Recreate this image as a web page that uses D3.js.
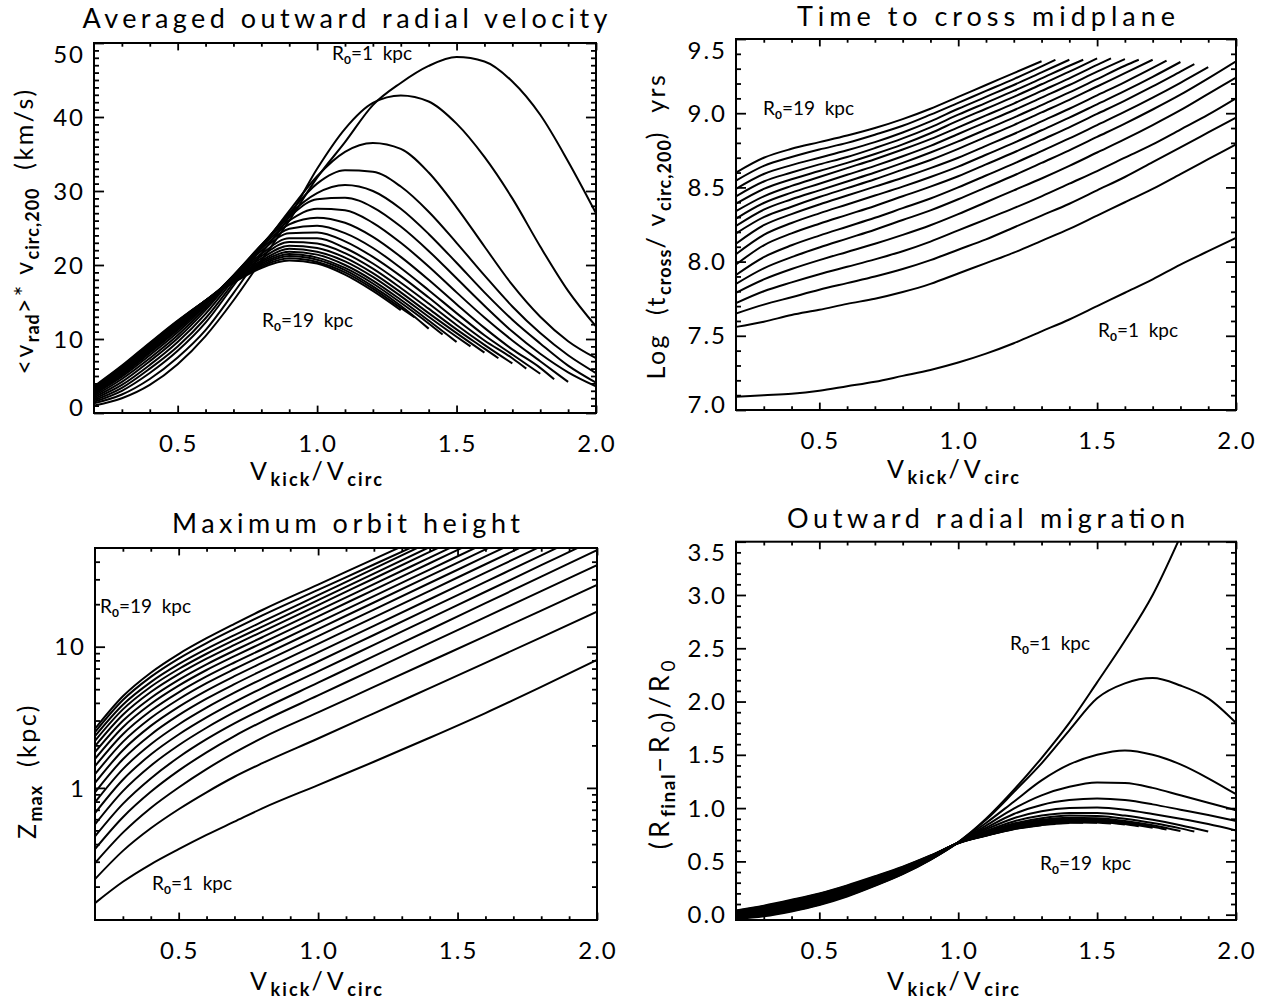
<!DOCTYPE html>
<html>
<head>
<meta charset="utf-8">
<script src="https://cdn.jsdelivr.net/npm/d3@7"></script>
<style>
  html, body { margin: 0; padding: 0; background: #fff; }
  svg { display: block; }
  text { font-family: Lato, "DejaVu Sans", sans-serif; font-weight: 400; fill: #000; white-space: pre; }
</style>
</head>
<body>
<svg id="fig" width="1273" height="1002"></svg>
<script>
// ---- kick velocity grids (V_kick / V_circ) ----
const kickGrid = [0.2, 0.3, 0.4, 0.5, 0.6, 0.7, 0.8, 0.9, 1.0, 1.1, 1.2, 1.3, 1.4, 1.5, 1.6, 1.7, 1.8, 1.9, 2.0];
const kickGridZ = [0.2, 0.3, 0.4, 0.5, 0.6, 0.7, 0.8, 1.0, 1.2, 1.4, 1.6, 1.8, 2.0];

// initial radii R0 = 1 ... 19 kpc
const radiiKpc = [1, 2, 3, 4, 5, 6, 7, 8, 9, 10, 11, 12, 13, 14, 15, 16, 17, 18, 19];
// last kick value reached by each orbit family
const lastKick = [2.0, 2.0, 2.0, 2.0, 2.0, 2.0, 1.90, 1.85, 1.80, 1.75, 1.70, 1.65, 1.60, 1.55, 1.50, 1.45, 1.40, 1.35, 1.30];

// ---- <v_rad> * v_circ,200  (km/s) ----
const vradCurves = [
  [1.0, 2.0, 3.8, 6.6, 10.4, 15.2, 20.6, 26.0, 31.8, 36.6, 41.6, 44.6, 46.9, 48.1, 47.5, 44.8, 40.3, 34.0, 27.0],
  [1.3, 2.5, 4.6, 7.5, 11.2, 16.2, 21.5, 26.5, 33.0, 38.4, 41.9, 42.9, 42.1, 39.1, 34.6, 29.0, 22.5, 16.5, 11.7],
  [1.5, 3.0, 5.4, 8.4, 12.2, 17.2, 22.3, 27.3, 32.0, 35.3, 36.5, 35.7, 32.5, 27.8, 22.5, 17.3, 13.0, 9.7, 7.4],
  [1.7, 3.4, 6.0, 9.0, 12.8, 17.6, 22.5, 27.0, 31.0, 32.8, 32.6, 30.6, 27.2, 23.0, 18.6, 14.4, 10.8, 7.8, 5.4],
  [1.9, 3.8, 6.5, 9.6, 13.4, 18.0, 22.6, 26.8, 29.7, 30.8, 30.0, 27.6, 24.2, 20.3, 16.3, 12.6, 9.4, 6.4, 4.1],
  [2.1, 4.2, 7.0, 10.1, 13.9, 18.3, 22.7, 26.5, 28.9, 29.1, 27.8, 25.2, 21.9, 18.2, 14.5, 11.0, 8.0, 5.5, 3.6],
  [2.3, 4.6, 7.4, 10.5, 14.2, 18.5, 22.7, 26.0, 27.6, 27.4, 25.7, 23.0, 19.8, 16.3, 12.9, 9.8, 7.0, 4.2],
  [2.5, 4.9, 7.8, 10.9, 14.5, 18.6, 22.5, 25.5, 26.4, 25.7, 23.8, 21.1, 18.0, 14.7, 11.5, 8.6, 6.1, 4.55],
  [2.6, 5.1, 8.1, 11.2, 14.7, 18.6, 22.2, 24.9, 25.3, 24.3, 22.3, 19.6, 16.6, 13.5, 10.5, 7.9, 5.3],
  [2.7, 5.3, 8.3, 11.4, 14.8, 18.5, 21.9, 24.3, 24.4, 23.2, 21.1, 18.5, 15.6, 12.6, 9.8, 7.4, 6.0],
  [2.8, 5.5, 8.5, 11.6, 14.9, 18.4, 21.5, 23.6, 23.6, 22.3, 20.2, 17.6, 14.8, 11.9, 9.2, 6.7],
  [2.9, 5.6, 8.7, 11.8, 15.0, 18.3, 21.2, 23.1, 22.9, 21.6, 19.5, 16.9, 14.1, 11.3, 8.7, 7.4],
  [3.0, 5.8, 8.9, 12.0, 15.1, 18.2, 20.9, 22.6, 22.3, 21.0, 18.9, 16.3, 13.5, 10.8, 8.15],
  [3.1, 5.9, 9.0, 12.1, 15.2, 18.1, 20.6, 22.2, 21.8, 20.5, 18.4, 15.8, 13.0, 10.3, 9.0],
  [3.2, 6.0, 9.1, 12.2, 15.2, 18.0, 20.4, 21.8, 21.4, 20.0, 17.9, 15.3, 12.5, 9.6],
  [3.3, 6.1, 9.2, 12.3, 15.2, 17.9, 20.2, 21.5, 21.0, 19.6, 17.5, 14.9, 12.1, 10.6],
  [3.4, 6.2, 9.3, 12.4, 15.2, 17.8, 20.0, 21.2, 20.7, 19.3, 17.1, 14.5, 11.4],
  [3.5, 6.3, 9.4, 12.4, 15.2, 17.7, 19.8, 20.9, 20.4, 19.0, 16.8, 14.2, 12.9],
  [3.6, 6.4, 9.5, 12.5, 15.2, 17.6, 19.6, 20.6, 20.2, 18.7, 16.5, 13.9]
];

// ---- log10 of midplane crossing time (yr) ----
const tcrossCurves = [
  [7.09, 7.10, 7.11, 7.13, 7.16, 7.19, 7.23, 7.27, 7.32, 7.38, 7.45, 7.53, 7.61, 7.70, 7.79, 7.88, 7.98, 8.07, 8.16],
  [7.56, 7.595, 7.64, 7.675, 7.715, 7.75, 7.795, 7.85, 7.92, 7.99, 8.06, 8.14, 8.22, 8.31, 8.40, 8.49, 8.59, 8.69, 8.79],
  [7.65, 7.71, 7.76, 7.81, 7.855, 7.90, 7.95, 8.01, 8.08, 8.15, 8.23, 8.31, 8.39, 8.48, 8.57, 8.67, 8.77, 8.87, 8.97],
  [7.72, 7.80, 7.86, 7.915, 7.965, 8.015, 8.07, 8.135, 8.21, 8.285, 8.36, 8.44, 8.525, 8.61, 8.70, 8.79, 8.89, 8.99, 9.10],
  [7.79, 7.88, 7.95, 8.01, 8.065, 8.12, 8.18, 8.245, 8.32, 8.40, 8.48, 8.56, 8.645, 8.735, 8.825, 8.92, 9.02, 9.13, 9.24],
  [7.85, 7.955, 8.03, 8.095, 8.155, 8.215, 8.28, 8.345, 8.42, 8.50, 8.58, 8.665, 8.75, 8.84, 8.93, 9.025, 9.125, 9.235, 9.35],
  [7.91, 8.03, 8.11, 8.175, 8.235, 8.295, 8.36, 8.425, 8.50, 8.58, 8.66, 8.745, 8.83, 8.92, 9.01, 9.105, 9.205, 9.31],
  [7.98, 8.11, 8.19, 8.255, 8.315, 8.375, 8.44, 8.505, 8.575, 8.655, 8.735, 8.82, 8.905, 8.995, 9.085, 9.18, 9.28, 9.33],
  [8.05, 8.18, 8.26, 8.325, 8.385, 8.445, 8.505, 8.57, 8.64, 8.72, 8.80, 8.885, 8.97, 9.06, 9.15, 9.245, 9.345],
  [8.12, 8.245, 8.32, 8.385, 8.445, 8.505, 8.565, 8.63, 8.70, 8.78, 8.86, 8.945, 9.03, 9.12, 9.21, 9.305, 9.355],
  [8.19, 8.30, 8.37, 8.435, 8.495, 8.555, 8.62, 8.685, 8.76, 8.84, 8.92, 9.005, 9.09, 9.18, 9.27, 9.36],
  [8.24, 8.35, 8.42, 8.48, 8.54, 8.60, 8.665, 8.735, 8.81, 8.89, 8.97, 9.055, 9.14, 9.23, 9.32, 9.36],
  [8.29, 8.395, 8.465, 8.525, 8.585, 8.645, 8.71, 8.78, 8.86, 8.94, 9.02, 9.105, 9.19, 9.28, 9.365],
  [8.34, 8.44, 8.51, 8.57, 8.63, 8.69, 8.755, 8.825, 8.905, 8.985, 9.065, 9.15, 9.235, 9.325, 9.37],
  [8.39, 8.49, 8.555, 8.61, 8.665, 8.725, 8.79, 8.865, 8.95, 9.03, 9.11, 9.195, 9.28, 9.37],
  [8.44, 8.54, 8.60, 8.655, 8.705, 8.765, 8.83, 8.905, 8.99, 9.07, 9.15, 9.235, 9.32, 9.36],
  [8.49, 8.59, 8.65, 8.70, 8.75, 8.805, 8.87, 8.945, 9.03, 9.11, 9.19, 9.275, 9.36],
  [8.545, 8.645, 8.705, 8.755, 8.80, 8.855, 8.915, 8.99, 9.07, 9.15, 9.23, 9.315, 9.36],
  [8.60, 8.70, 8.76, 8.805, 8.85, 8.90, 8.96, 9.03, 9.11, 9.19, 9.27, 9.35]
];

// ---- log10 of maximum orbit height Z_max (kpc), on kickGridZ ----
const zmaxLogCurves = [
  [-0.816, -0.665, -0.541, -0.434, -0.333, -0.239, -0.145, 0.02, 0.185, 0.355, 0.53, 0.715, 0.906],
  [-0.646, -0.446, -0.286, -0.151, -0.031, 0.079, 0.175, 0.35, 0.528, 0.707, 0.886, 1.066, 1.248],
  [-0.532, -0.317, -0.142, 0.003, 0.133, 0.25, 0.355, 0.535, 0.715, 0.895, 1.075, 1.256, 1.437],
  [-0.433, -0.208, -0.028, 0.122, 0.252, 0.367, 0.47, 0.655, 0.84, 1.025, 1.21, 1.394, 1.578],
  [-0.343, -0.113, 0.067, 0.217, 0.345, 0.457, 0.557, 0.745, 0.933, 1.12, 1.308, 1.496, 1.684],
  [-0.258, -0.023, 0.157, 0.302, 0.426, 0.536, 0.637, 0.825, 1.013, 1.201, 1.389, 1.577, 1.765],
  [-0.178, 0.058, 0.236, 0.378, 0.499, 0.607, 0.707, 0.895, 1.083, 1.271, 1.459, 1.647, 1.835],
  [-0.102, 0.133, 0.309, 0.449, 0.568, 0.674, 0.772, 0.96, 1.148, 1.336, 1.524, 1.712, 1.90],
  [-0.031, 0.203, 0.377, 0.515, 0.632, 0.735, 0.832, 1.02, 1.208, 1.396, 1.584, 1.772],
  [0.035, 0.267, 0.439, 0.574, 0.689, 0.791, 0.887, 1.075, 1.263, 1.451, 1.639, 1.827],
  [0.097, 0.326, 0.495, 0.628, 0.742, 0.842, 0.937, 1.125, 1.313, 1.501, 1.689, 1.877],
  [0.154, 0.38, 0.546, 0.677, 0.789, 0.888, 0.982, 1.17, 1.358, 1.546, 1.734],
  [0.206, 0.43, 0.594, 0.724, 0.835, 0.933, 1.027, 1.215, 1.403, 1.591, 1.779],
  [0.253, 0.475, 0.637, 0.765, 0.875, 0.973, 1.067, 1.255, 1.443, 1.631, 1.819],
  [0.296, 0.518, 0.679, 0.806, 0.915, 1.013, 1.107, 1.295, 1.483, 1.671, 1.859],
  [0.334, 0.556, 0.716, 0.842, 0.95, 1.048, 1.142, 1.33, 1.518, 1.706],
  [0.367, 0.589, 0.749, 0.876, 0.984, 1.082, 1.177, 1.365, 1.553, 1.741],
  [0.395, 0.622, 0.786, 0.916, 1.026, 1.126, 1.222, 1.402, 1.582, 1.762],
  [0.419, 0.649, 0.816, 0.948, 1.06, 1.162, 1.26, 1.44, 1.62, 1.80]
];

// ---- (R_final - R0) / R0 ----
const migrationCurves = [
  [-0.04, -0.015, 0.03, 0.09, 0.17, 0.27, 0.38, 0.515, 0.68, 0.90, 1.17, 1.47, 1.80, 2.18, 2.57, 3.00, 3.55],
  [-0.036, -0.009, 0.036, 0.096, 0.176, 0.275, 0.384, 0.517, 0.679, 0.89, 1.15, 1.42, 1.73, 2.03, 2.17, 2.22, 2.15, 2.03, 1.80],
  [-0.031, -0.004, 0.042, 0.102, 0.182, 0.28, 0.388, 0.519, 0.679, 0.86, 1.06, 1.26, 1.41, 1.50, 1.54, 1.50, 1.41, 1.28, 1.13],
  [-0.027, 0.002, 0.048, 0.108, 0.188, 0.285, 0.392, 0.522, 0.678, 0.835, 0.995, 1.12, 1.20, 1.24, 1.235, 1.19, 1.12, 1.05, 0.98],
  [-0.022, 0.007, 0.054, 0.114, 0.193, 0.29, 0.396, 0.524, 0.678, 0.815, 0.945, 1.03, 1.075, 1.09, 1.075, 1.035, 0.985, 0.935, 0.88],
  [-0.018, 0.013, 0.061, 0.121, 0.199, 0.295, 0.399, 0.526, 0.677, 0.80, 0.905, 0.97, 1.0, 1.005, 0.985, 0.945, 0.90, 0.85, 0.79],
  [-0.013, 0.018, 0.067, 0.127, 0.205, 0.30, 0.403, 0.528, 0.677, 0.785, 0.875, 0.93, 0.955, 0.955, 0.93, 0.89, 0.84, 0.78],
  [-0.009, 0.024, 0.073, 0.133, 0.211, 0.305, 0.407, 0.531, 0.676, 0.775, 0.855, 0.905, 0.93, 0.925, 0.90, 0.86, 0.81, 0.78],
  [-0.004, 0.029, 0.079, 0.139, 0.217, 0.31, 0.411, 0.533, 0.676, 0.767, 0.843, 0.89, 0.91, 0.905, 0.88, 0.84, 0.785],
  [0.0, 0.035, 0.085, 0.145, 0.223, 0.315, 0.415, 0.535, 0.675, 0.762, 0.834, 0.879, 0.898, 0.893, 0.867, 0.826, 0.80],
  [0.004, 0.041, 0.091, 0.151, 0.228, 0.32, 0.419, 0.537, 0.675, 0.758, 0.827, 0.871, 0.889, 0.884, 0.858, 0.815],
  [0.009, 0.046, 0.097, 0.157, 0.234, 0.325, 0.423, 0.539, 0.674, 0.755, 0.822, 0.864, 0.882, 0.877, 0.851, 0.83],
  [0.013, 0.052, 0.103, 0.163, 0.24, 0.33, 0.427, 0.542, 0.674, 0.752, 0.818, 0.859, 0.876, 0.871, 0.845],
  [0.018, 0.057, 0.109, 0.169, 0.246, 0.335, 0.431, 0.544, 0.673, 0.75, 0.814, 0.854, 0.871, 0.866, 0.855],
  [0.022, 0.063, 0.116, 0.176, 0.252, 0.34, 0.434, 0.546, 0.673, 0.748, 0.811, 0.85, 0.867, 0.862],
  [0.027, 0.068, 0.122, 0.182, 0.258, 0.345, 0.438, 0.548, 0.672, 0.746, 0.808, 0.847, 0.863, 0.862],
  [0.031, 0.074, 0.128, 0.188, 0.263, 0.35, 0.442, 0.551, 0.672, 0.744, 0.806, 0.844, 0.86],
  [0.036, 0.079, 0.134, 0.194, 0.269, 0.355, 0.446, 0.553, 0.671, 0.742, 0.804, 0.842, 0.85],
  [0.04, 0.085, 0.14, 0.20, 0.275, 0.36, 0.45, 0.555, 0.67, 0.74, 0.802, 0.84]
];

// ---- tick values ----
const kickTicks = [0.5, 1.0, 1.5, 2.0];
const vradTicks = [0, 10, 20, 30, 40, 50];
const tcrossTicks = [7.0, 7.5, 8.0, 8.5, 9.0, 9.5];
const zmaxTicks = [1, 10];
const migrationTicks = [0.0, 0.5, 1.0, 1.5, 2.0, 2.5, 3.0, 3.5];

// minor tick positions
const kickMinor = [0.3, 0.4, 0.6, 0.7, 0.8, 0.9, 1.1, 1.2, 1.3, 1.4, 1.6, 1.7, 1.8, 1.9];
const vradMinor = d3.range(1, 50).filter(v => v % 10 !== 0);
const tcrossMinor = d3.range(71, 95).map(v => v / 10).filter(v => Math.abs(v * 2 - Math.round(v * 2)) > 1e-6);
const zmaxMinor = [0.2, 0.3, 0.4, 0.5, 0.6, 0.7, 0.8, 0.9, 2, 3, 4, 5, 6, 7, 8, 9, 20, 30, 40];
const migrationMinor = d3.range(1, 35).map(v => v / 10).filter(v => Math.abs(v * 2 - Math.round(v * 2)) > 1e-6);

const svg = d3.select('#fig');

// text with subscripts: parts = [{t, sub, bold}]
function richText(sel, parts, o) {
  let down = false;
  parts.forEach(p => {
    const ts = sel.append('tspan').text(p.t);
    if (p.sub) {
      ts.attr('font-size', o.sub).attr('letter-spacing', o.subLS);
      if (p.bold) ts.attr('font-weight', 700);
      if (!down) { ts.attr('dy', o.shift); down = true; }
    } else {
      ts.attr('letter-spacing', o.mainLS);
      if (down) { ts.attr('dy', -o.shift); down = false; }
    }
  });
  return sel;
}

const labelStyle = { sub: 18, subLS: 1, mainLS: 2.5, shift: 6 };
const wideLabelStyle = { sub: 19, subLS: 1.5, mainLS: 4, shift: 6 };
const noteStyle = { sub: 12, subLS: 0, mainLS: 0, shift: 4 };
const kickLabel = [{ t: 'V' }, { t: 'kick', sub: true, bold: true }, { t: '/V' }, { t: 'circ', sub: true, bold: true }];
function r0Label(n) { return [{ t: 'R' }, { t: '0', sub: true, bold: true }, { t: '=' + n + '  kpc' }]; }

const panels = [
  {
    id: 'vrad', title: 'Averaged outward radial velocity', titleLen: 525, titleY: 28,
    left: 94, right: 596, top: 43, bottom: 413,
    yDomain: [0, 50], log: false, curves: vradCurves, grid: kickGrid, ends: lastKick,
    yTicks: vradTicks, yMinor: vradMinor, fmt: d3.format('d'),
    yLabel: [{ t: '<v' }, { t: 'rad', sub: true, bold: true }, { t: '>* v' }, { t: 'circ,200', sub: true, bold: true }, { t: '  (km/s)' }],
    yLabelX: 33, yLabelC: 231, yLabelStyle: labelStyle, yLabelSize: 25,
    xLabelX: 250, xLabelY: 480,
    notes: [{ n: 1, x: 332, y: 60 }, { n: 19, x: 262, y: 327 }]
  },
  {
    id: 'tcross', title: 'Time to cross midplane', titleLen: 378, titleY: 26,
    left: 736, right: 1236, top: 39, bottom: 410,
    yDomain: [7.0, 9.5], log: false, curves: tcrossCurves, grid: kickGrid, ends: lastKick,
    yTicks: tcrossTicks, yMinor: tcrossMinor, fmt: d3.format('.1f'),
    yLabel: [{ t: 'Log  (t' }, { t: 'cross', sub: true, bold: true }, { t: '/ v' }, { t: 'circ,200', sub: true, bold: true }, { t: ')  yrs' }],
    yLabelX: 665, yLabelC: 226, yLabelStyle: labelStyle, yLabelSize: 25,
    xLabelX: 887, xLabelY: 478,
    notes: [{ n: 19, x: 763, y: 115 }, { n: 1, x: 1098, y: 337 }]
  },
  {
    id: 'zmax', title: 'Maximum orbit height', titleLen: 348, titleY: 533,
    left: 95, right: 597, top: 548, bottom: 920,
    yDomain: [0.116, 50], log: true, curves: zmaxLogCurves, grid: kickGridZ, ends: null,
    yTicks: zmaxTicks, yMinor: zmaxMinor, fmt: d3.format('d'),
    yLabel: [{ t: 'Z' }, { t: 'max', sub: true, bold: true }, { t: '  (kpc)' }],
    yLabelX: 36, yLabelC: 771, yLabelStyle: labelStyle, yLabelSize: 25,
    xLabelX: 250, xLabelY: 990,
    notes: [{ n: 19, x: 100, y: 613 }, { n: 1, x: 152, y: 890 }]
  },
  {
    id: 'migration', title: 'Outward radial migration', titleLen: 398, titleY: 528,
    left: 736, right: 1236, top: 541.7, bottom: 920,
    yDomain: [-0.05, 3.5], log: false, curves: migrationCurves, grid: kickGrid, ends: lastKick,
    yTicks: migrationTicks, yMinor: migrationMinor, fmt: d3.format('.1f'),
    yLabel: [{ t: '(R' }, { t: 'final', sub: true, bold: true }, { t: '\u2212R' }, { t: '0', sub: true }, { t: ')/R' }, { t: '0', sub: true }],
    yLabelX: 669, yLabelC: 754, yLabelStyle: wideLabelStyle, yLabelSize: 27,
    xLabelX: 887, xLabelY: 990,
    notes: [{ n: 1, x: 1010, y: 650 }, { n: 19, x: 1040, y: 870 }]
  }
];

panels.forEach(p => {
  const g = svg.append('g').attr('class', 'panel-' + p.id);
  const x = d3.scaleLinear().domain([0.2, 2.0]).range([p.left, p.right]);
  const y = (p.log ? d3.scaleLog() : d3.scaleLinear()).domain(p.yDomain).range([p.bottom, p.top]);
  const toY = p.log ? (v => Math.pow(10, v)) : (v => v);

  // clip region = plot box
  const clipId = 'clip-' + p.id;
  g.append('clipPath').attr('id', clipId)
    .append('rect').attr('x', p.left).attr('y', p.top)
    .attr('width', p.right - p.left).attr('height', p.bottom - p.top);

  const line = d3.line()
    .x(d => x(d[0]))
    .y(d => y(d[1]))
    .curve(d3.curveMonotoneX);

  const curvesG = g.append('g').attr('clip-path', `url(#${clipId})`);
  p.curves.forEach((vals, k) => {
    const end = p.ends ? p.ends[k] : 2.0;
    const pts = vals.map((v, i) => [Math.min(p.grid[i], end), toY(v)]);
    curvesG.append('path')
      .attr('d', line(pts))
      .attr('fill', 'none')
      .attr('stroke', '#000')
      .attr('stroke-width', 2)
      .attr('stroke-linejoin', 'round')
      .attr('data-r0', radiiKpc[k]);
  });

  // ticks on all four sides, pointing inward
  const xLen = 0.02 * (p.bottom - p.top), yLen = 0.02 * (p.right - p.left);
  const tickStyle = s => {
    s.select('.domain').remove();
    s.selectAll('line').attr('stroke', '#000').attr('stroke-width', 1.8);
  };
  const axisSet = [
    [d3.axisBottom(x), `translate(0,${p.bottom})`, kickTicks, kickMinor, xLen],
    [d3.axisTop(x), `translate(0,${p.top})`, kickTicks, kickMinor, xLen],
    [d3.axisLeft(y), `translate(${p.left},0)`, p.yTicks, p.yMinor, yLen],
    [d3.axisRight(y), `translate(${p.right},0)`, p.yTicks, p.yMinor, yLen]
  ];
  axisSet.forEach(([ax, tr, major, minor, len]) => {
    g.append('g').attr('transform', tr)
      .call(ax.tickValues(major).tickSize(-len).tickFormat(() => '')).call(tickStyle);
    g.append('g').attr('transform', tr)
      .call(ax.tickValues(minor).tickSize(-len / 2).tickFormat(() => '')).call(tickStyle);
  });

  // plot box
  g.append('rect')
    .attr('x', p.left).attr('y', p.top)
    .attr('width', p.right - p.left).attr('height', p.bottom - p.top)
    .attr('fill', 'none').attr('stroke', '#000').attr('stroke-width', 2);

  // x tick labels
  g.append('g').selectAll('text').data(kickTicks).join('text')
    .attr('x', d => x(d) + 1).attr('y', p.bottom + 39)
    .attr('text-anchor', 'middle').attr('font-size', 24)
    .attr('letter-spacing', 2)
    .text(d => d3.format('.1f')(d));

  // y tick labels (end labels kept inside the box height)
  g.append('g').selectAll('text').data(p.yTicks).join('text')
    .attr('x', p.left - 9)
    .attr('y', d => Math.min(Math.max(y(d), p.top + 11), p.bottom - 6))
    .attr('dy', '0.36em')
    .attr('text-anchor', 'end').attr('font-size', 24)
    .attr('letter-spacing', 2)
    .text(d => p.fmt(d));

  // title
  g.append('text')
    .attr('x', (p.left + p.right) / 2).attr('y', p.titleY)
    .attr('text-anchor', 'middle').attr('font-size', 27).attr('font-weight', 300)
    .attr('textLength', p.titleLen).attr('lengthAdjust', 'spacing')
    .text(p.title);

  // x axis label
  richText(g.append('text').attr('x', p.xLabelX).attr('y', p.xLabelY).attr('font-size', 25)
    .attr('textLength', 133).attr('lengthAdjust', 'spacing'), kickLabel, labelStyle);

  // y axis label (rotated)
  richText(g.append('text')
    .attr('transform', `translate(${p.yLabelX},${p.yLabelC}) rotate(-90)`)
    .attr('text-anchor', 'middle').attr('font-size', p.yLabelSize), p.yLabel, p.yLabelStyle);

  // R0 annotations
  p.notes.forEach(nt => {
    richText(g.append('text').attr('x', nt.x).attr('y', nt.y).attr('font-size', 19), r0Label(nt.n), noteStyle);
  });
});
</script>
</body>
</html>
